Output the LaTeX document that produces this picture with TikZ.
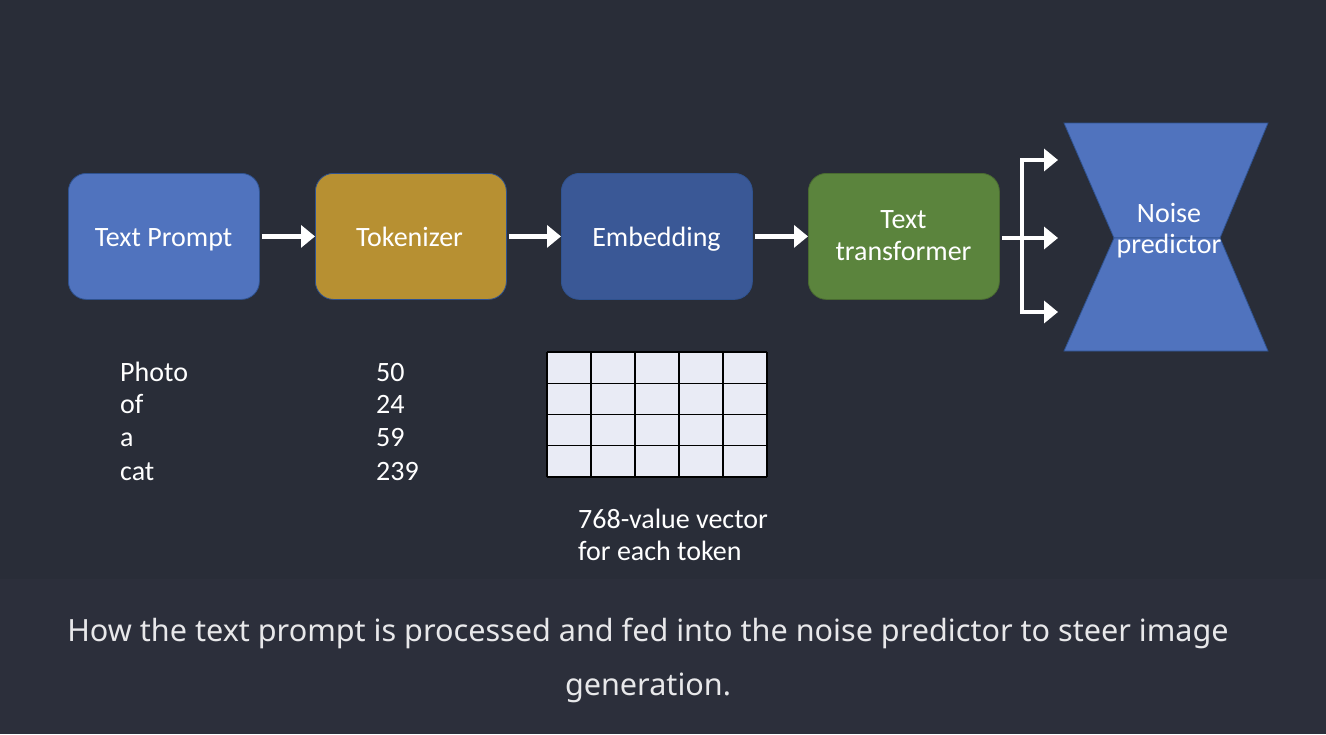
\documentclass[tikz,border=0pt]{standalone}
\usepackage{fontspec}
\setmainfont{Carlito}
\newfontfamily\capfont{Noto Sans}
\usetikzlibrary{arrows.meta}
\definecolor{bgtop}{HTML}{292D38}
\definecolor{bgbot}{HTML}{2C2F3B}
\definecolor{tpblue}{HTML}{5073BE}
\definecolor{tokgold}{HTML}{B79032}
\definecolor{embblue}{HTML}{3A5896}
\definecolor{trgreen}{HTML}{5B843D}
\definecolor{outl}{HTML}{2F528F}
\definecolor{gridfill}{HTML}{E9EBF5}
\definecolor{captext}{HTML}{E8E8EA}
\begin{document}
\begin{tikzpicture}[x=1pt,y=-1pt,
  box/.style={draw=outl, line width=0.8pt, rounded corners=18pt, minimum width=191pt, minimum height=126pt, inner sep=0pt, anchor=north west},
  lbl/.style={text=white, font=\fontsize{28}{32}\selectfont, inner sep=0pt, anchor=base},
  sidelbl/.style={text=white, font=\fontsize{28}{32}\selectfont, inner sep=0pt, anchor=base west},
  arr/.style={draw=white, line width=4.5pt, -{Triangle[length=14pt,width=22pt]}},
  wline/.style={draw=white, line width=4.5pt, line cap=rect},
  caption/.style={text=captext, font=\capfont\fontsize{30.6}{35}\selectfont, inner sep=0pt, anchor=base}
]
\useasboundingbox (0,0) rectangle (1326,734);
\fill[bgtop] (0,0) rectangle (1326,579);
\fill[bgbot] (0,579) rectangle (1326,734);

% boxes
\node[box, fill=tpblue] (tp) at (68,173) {};
\node[box, fill=tokgold] (tok) at (315,173) {};
\node[box, fill=embblue] (emb) at (561,173) {};
\node[box, fill=trgreen, draw=trgreen!80!black] (tr) at (808,173) {};

\node[lbl] (tpl) at (163.5,246) {Text Prompt};
\node[lbl] (tokl) at (409.5,246) {Tokenizer};
\node[lbl] (embl) at (656.5,246) {Embedding};
\node[lbl] (trl1) at (903.5,228) {Text};
\node[lbl] (trl2) at (903.5,260) {transformer};

% arrows between boxes
\draw[arr] ([xshift=2pt]tp.east) -- (tok.west);
\draw[arr] ([xshift=2pt]tok.east) -- (emb.west);
\draw[arr] ([xshift=2pt]emb.east) -- (tr.west);

% fork
\coordinate (ftop) at (1022,160);
\coordinate (fbot) at (1022,312);
\coordinate (otop) at (1058,160);
\coordinate (omid) at (1058,238);
\coordinate (obot) at (1058,312);
\draw[wline] (ftop) -- (fbot);
\draw[arr] ([xshift=2pt]tr.east |- omid) -- (omid);
\draw[arr] (ftop) -- (otop);
\draw[arr] (fbot) -- (obot);

% noise predictor hourglass
\draw[fill=tpblue, draw=outl, line width=0.8pt]
  (1064,123) -- (1268,123) -- (1220,238) -- (1114,238) -- cycle;
\draw[fill=tpblue, draw=outl, line width=0.8pt]
  (1114,238) -- (1220,238) -- (1268,351) -- (1064,351) -- cycle;
\node[lbl] (np1) at (1169,222) {Noise};
\node[lbl] (np2) at (1169,253) {predictor};

% words and tokens
\node[sidelbl] (w1) at (120,381) {Photo};
\node[sidelbl] (w2) at (120,413) {of};
\node[sidelbl] (w3) at (120,446) {a};
\node[sidelbl] (w4) at (120,480) {cat};
\node[sidelbl] (n1) at (376,381) {50};
\node[sidelbl] (n2) at (376,413) {24};
\node[sidelbl] (n3) at (376,446) {59};
\node[sidelbl] (n4) at (376,480) {239};

% embedding grid
\fill[gridfill] (547,352) rectangle (767,477);
\foreach \i in {0,...,5} {
  \draw[black, line width=1.3pt] (547+\i*44,352) -- (547+\i*44,477);
}
\foreach \j in {0,...,4} {
  \draw[black, line width=1.3pt] (547,352+\j*31.25) -- (767,352+\j*31.25);
}
\node[sidelbl] (v1) at (578,528) {768-value vector};
\node[sidelbl] (v2) at (578,560) {for each token};

% caption
\node[caption] (c1) at (648,641) {How the text prompt is processed and fed into the noise predictor to steer image};
\node[caption] (c2) at (648,695) {generation.};
\end{tikzpicture}
\end{document}
